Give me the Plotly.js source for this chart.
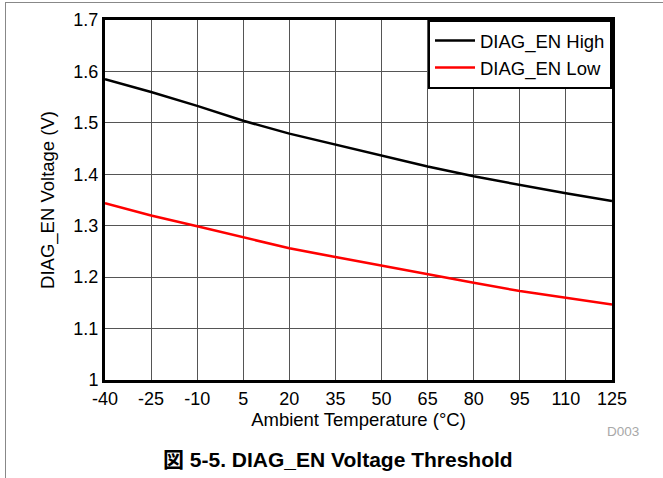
<!DOCTYPE html>
<html>
<head>
<meta charset="utf-8">
<script src="https://cdn.plot.ly/plotly-3.0.1.min.js"></script>
<style>
  html, body { margin: 0; padding: 0; background: #fff; }
  #wrap { position: relative; width: 663px; height: 478px; overflow: hidden; }
  #chart { width: 663px; height: 478px; }
  #frame { position: absolute; left: 5px; top: 2px; width: 700px; height: 500px;
           border-left: 1.5px solid #888; border-top: 1.5px solid #888; pointer-events: none; }
</style>
</head>
<body>
<div id="wrap">
  <div id="chart"></div>
  <div id="frame"></div>
</div>
<script>
const temperature = [-40, -25, -10, 5, 20, 35, 50, 65, 80, 95, 110, 125];
const diagEnHigh = [1.585, 1.560, 1.533, 1.504, 1.479, 1.458, 1.436, 1.415, 1.396, 1.379, 1.363, 1.348];
const diagEnLow  = [1.344, 1.320, 1.299, 1.277, 1.256, 1.239, 1.222, 1.206, 1.189, 1.173, 1.160, 1.147];
const xTicks = [-40, -25, -10, 5, 20, 35, 50, 65, 80, 95, 110, 125];
const xTickText = ['-40', '-25', '-10', '5', '20', '35', '50', '65', '80', '95', '110', '125'];
const yTicks = [1, 1.1, 1.2, 1.3, 1.4, 1.5, 1.6, 1.7];
const yTickText = ['1', '1.1', '1.2', '1.3', '1.4', '1.5', '1.6', '1.7'];

const FONT = 'Liberation Sans, Arial, Helvetica, sans-serif';

const traces = [
  { x: temperature, y: diagEnHigh, name: 'DIAG_EN High', mode: 'lines',
    line: { color: '#000000', width: 2.5 } },
  { x: temperature, y: diagEnLow, name: 'DIAG_EN Low', mode: 'lines',
    line: { color: '#ff0000', width: 2.5 } }
];

const layout = {
  width: 663, height: 478,
  margin: { l: 105, r: 51, t: 20, b: 98 },
  paper_bgcolor: '#ffffff', plot_bgcolor: '#ffffff',
  font: { family: FONT, size: 18, color: '#000' },
  showlegend: true,
  legend: {
    x: 1, xanchor: 'right', y: 1, yanchor: 'top',
    bgcolor: '#ffffff', bordercolor: '#000000', borderwidth: 2,
    font: { family: FONT, size: 18.5, color: '#000' },
    tracegroupgap: 0, itemwidth: 40
  },
  xaxis: {
    range: [-40, 125], tickmode: 'array', tickvals: xTicks, ticktext: xTickText,
    showgrid: true, gridcolor: '#555', gridwidth: 1,
    zeroline: false, showline: true, linecolor: '#000', linewidth: 3, mirror: true,
    ticks: '', tickfont: { family: FONT, size: 18 },
    title: { text: 'Ambient Temperature (°C)', font: { family: FONT, size: 18.5 }, standoff: 2 }
  },
  yaxis: {
    range: [1, 1.7], tickmode: 'array', tickvals: yTicks, ticktext: yTickText,
    showgrid: true, gridcolor: '#555', gridwidth: 1,
    zeroline: false, showline: true, linecolor: '#000', linewidth: 3, mirror: true,
    ticks: '', tickfont: { family: FONT, size: 18 },
    title: { text: 'DIAG_EN Voltage (V)', font: { family: FONT, size: 18.5 }, standoff: 14 }
  },
  annotations: [
    { text: 'D003', xref: 'paper', yref: 'paper', x: 1.0217, y: -0.144,
      xanchor: 'center', yanchor: 'middle', showarrow: false,
      font: { family: FONT, size: 13.5, color: '#a8a8a8' } },
    { text: '<b>図 5-5. DIAG_EN Voltage Threshold</b>', xref: 'paper', yref: 'paper',
      x: 0.46, y: -0.222, xanchor: 'center', yanchor: 'middle', showarrow: false,
      font: { family: 'Liberation Sans, Noto Sans CJK JP, sans-serif', size: 21, color: '#000' } }
  ]
};

Plotly.newPlot('chart', traces, layout, { displayModeBar: false, staticPlot: true });
</script>
</body>
</html>
